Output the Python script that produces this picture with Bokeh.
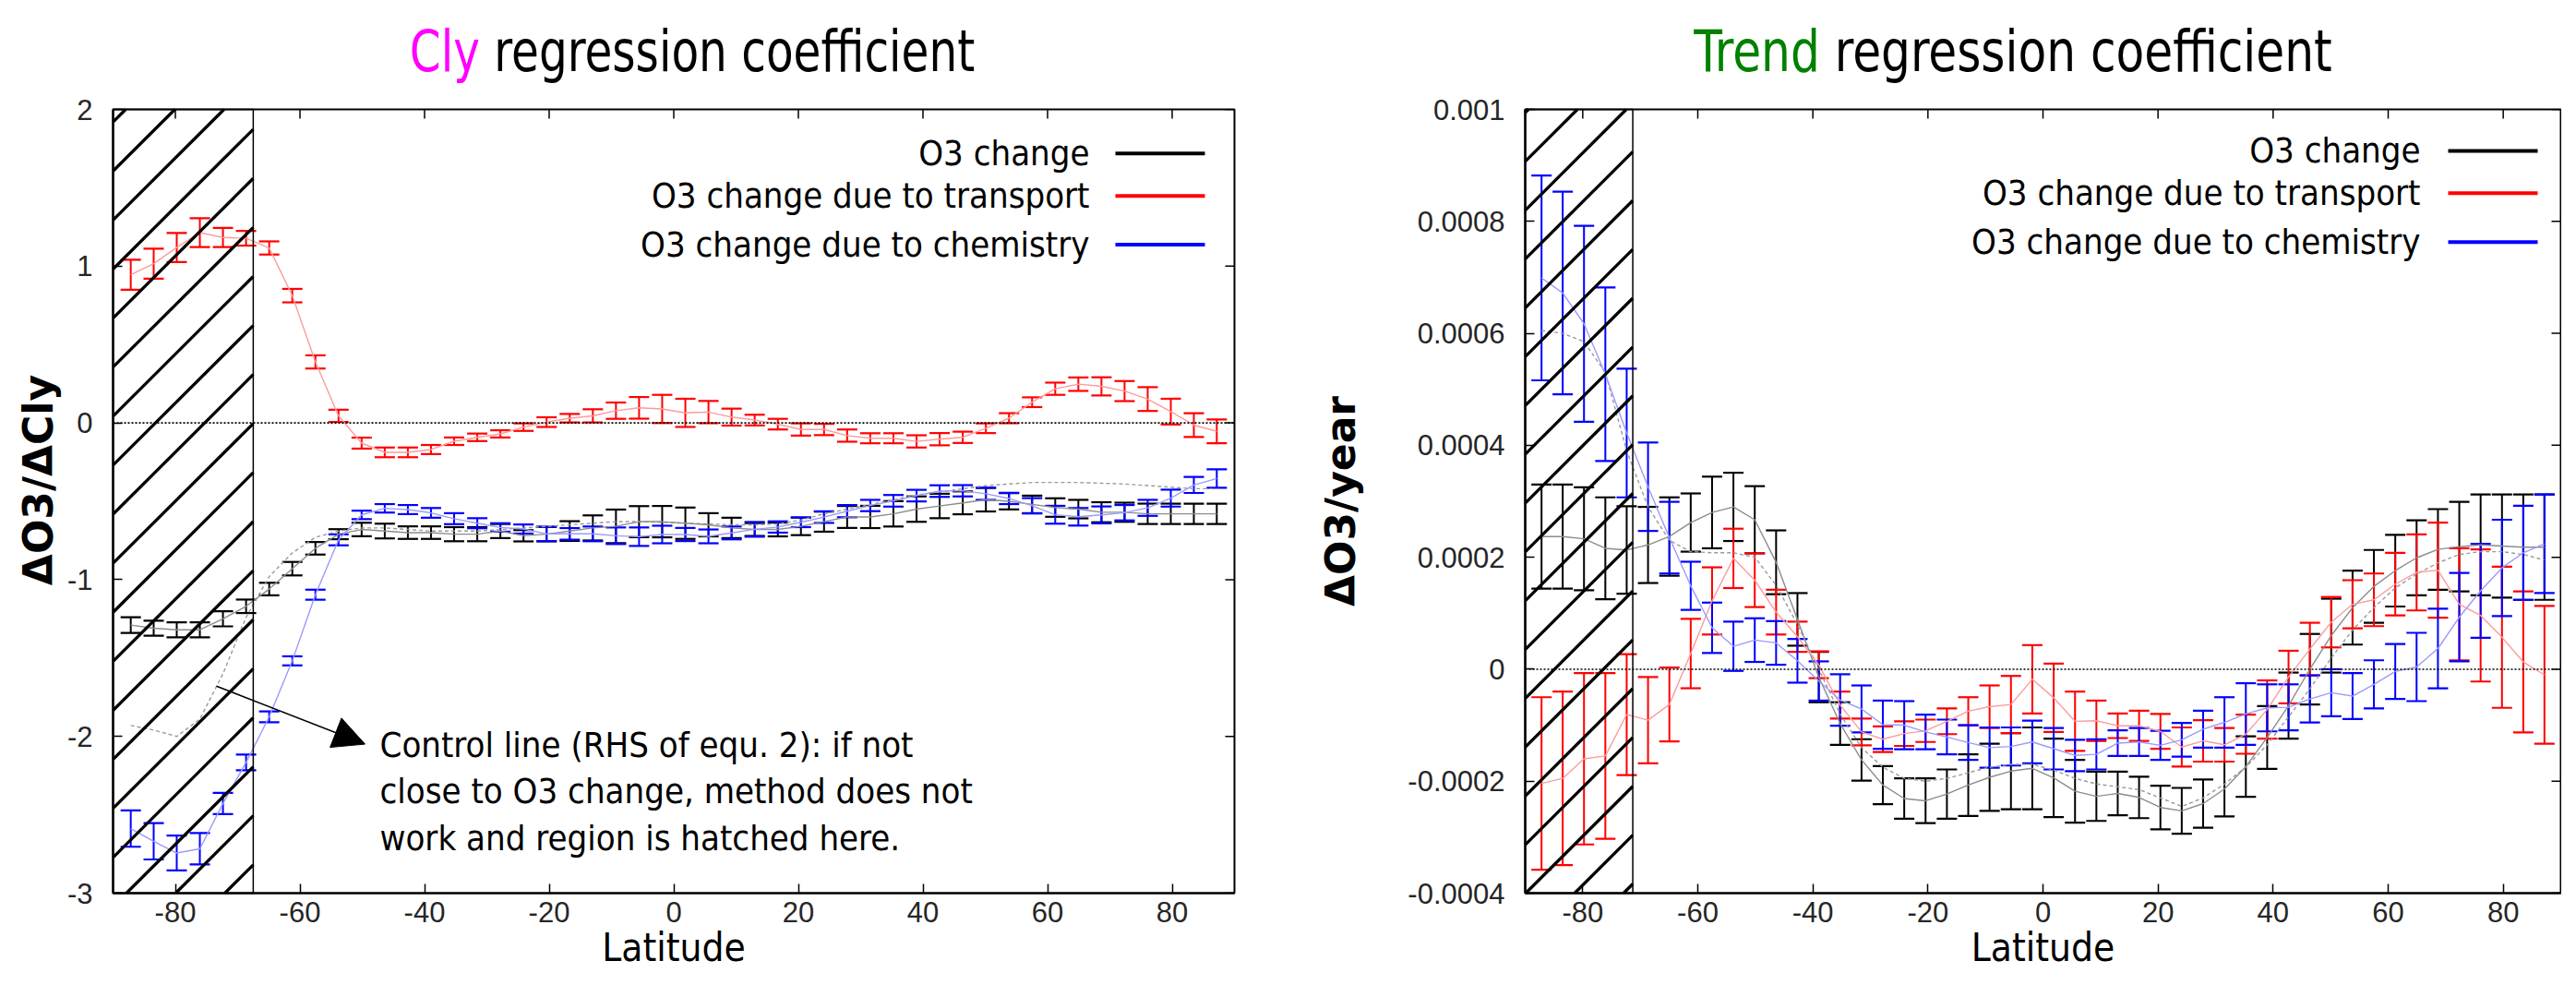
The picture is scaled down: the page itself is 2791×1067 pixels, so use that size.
import math
from bokeh.plotting import figure
from bokeh.models import (ColumnDataSource, Whisker, TeeHead, Span, Label, Range1d, Div,
                          FixedTicker, CustomJSTickFormatter, Arrow, NormalHead)
from bokeh.layouts import row, column
from bokeh.embed import file_html
from bokeh.resources import INLINE

# ---------------- data ----------------
latitude = [-87.16, -83.48, -79.78, -76.07, -72.36, -68.65, -64.94, -61.23, -57.52, -53.81,
            -50.10, -46.39, -42.68, -38.97, -35.26, -31.54, -27.83, -24.12, -20.41, -16.70,
            -12.99, -9.28, -5.57, -1.86, 1.86, 5.57, 9.28, 12.99, 16.70, 20.41,
            24.12, 27.83, 31.54, 35.26, 38.97, 42.68, 46.39, 50.10, 53.81, 57.52,
            61.23, 64.94, 68.65, 72.36, 76.07, 79.78, 83.48, 87.16]

# Cly regression coefficient (dO3/dCly)
cly_change = [-1.29, -1.31, -1.32, -1.32, -1.25, -1.17, -1.06, -0.93, -0.80, -0.71,
              -0.68, -0.69, -0.70, -0.70, -0.71, -0.71, -0.69, -0.72, -0.71, -0.69,
              -0.67, -0.66, -0.63, -0.63, -0.64, -0.65, -0.67, -0.68, -0.68, -0.66,
              -0.63, -0.60, -0.60, -0.58, -0.55, -0.53, -0.51, -0.49, -0.50, -0.52,
              -0.54, -0.55, -0.57, -0.57, -0.58, -0.58, -0.58, -0.58]
cly_change_err = [0.050, 0.048, 0.048, 0.048, 0.048, 0.043, 0.040, 0.043, 0.040, 0.032,
                  0.043, 0.047, 0.040, 0.040, 0.045, 0.045, 0.045, 0.036, 0.046, 0.063,
                  0.080, 0.107, 0.099, 0.100, 0.100, 0.074, 0.065, 0.041, 0.044, 0.056,
                  0.064, 0.070, 0.071, 0.081, 0.081, 0.078, 0.073, 0.075, 0.052, 0.056,
                  0.059, 0.059, 0.064, 0.061, 0.065, 0.065, 0.065, 0.065]
cly_transport = [0.945, 1.016, 1.119, 1.214, 1.183, 1.178, 1.116, 0.812, 0.389, 0.045,
                 -0.129, -0.188, -0.188, -0.170, -0.117, -0.092, -0.070, -0.027, 0.005, 0.030,
                 0.045, 0.078, 0.096, 0.089, 0.064, 0.069, 0.037, 0.018, -0.008, -0.042,
                 -0.042, -0.081, -0.098, -0.098, -0.118, -0.104, -0.092, -0.034, 0.030, 0.132,
                 0.218, 0.247, 0.233, 0.203, 0.152, 0.072, -0.014, -0.054]
cly_transport_err = [0.096, 0.096, 0.093, 0.092, 0.061, 0.047, 0.042, 0.043, 0.042, 0.039,
                     0.035, 0.031, 0.031, 0.029, 0.024, 0.024, 0.023, 0.024, 0.031, 0.027,
                     0.042, 0.052, 0.069, 0.090, 0.090, 0.071, 0.054, 0.034, 0.034, 0.039,
                     0.036, 0.039, 0.032, 0.032, 0.039, 0.039, 0.036, 0.031, 0.032, 0.031,
                     0.039, 0.043, 0.058, 0.064, 0.076, 0.082, 0.076, 0.076]
cly_chemistry = [-2.588, -2.669, -2.744, -2.717, -2.428, -2.166, -1.875, -1.518, -1.096, -0.746,
                 -0.587, -0.545, -0.553, -0.574, -0.611, -0.640, -0.667, -0.677, -0.708, -0.708,
                 -0.708, -0.720, -0.726, -0.712, -0.712, -0.724, -0.702, -0.679, -0.664, -0.634,
                 -0.601, -0.563, -0.527, -0.497, -0.464, -0.435, -0.433, -0.452, -0.482, -0.529,
                 -0.586, -0.599, -0.587, -0.573, -0.542, -0.480, -0.396, -0.355]
cly_chemistry_err = [0.116, 0.116, 0.111, 0.100, 0.068, 0.050, 0.035, 0.029, 0.032, 0.035,
                     0.027, 0.027, 0.029, 0.031, 0.035, 0.032, 0.027, 0.029, 0.046, 0.037,
                     0.047, 0.053, 0.059, 0.056, 0.042, 0.044, 0.041, 0.047, 0.036, 0.031,
                     0.037, 0.039, 0.036, 0.037, 0.037, 0.037, 0.036, 0.039, 0.036, 0.049,
                     0.057, 0.056, 0.054, 0.049, 0.051, 0.054, 0.051, 0.059]
cly_control = [-1.93, -1.96, -2.00, -1.89, -1.60, -1.24, -0.98, -0.83, -0.73, -0.69,
               -0.67, -0.67, -0.68, -0.69, -0.69, -0.69, -0.68, -0.67, -0.66, -0.65,
               -0.64, -0.63, -0.63, -0.635, -0.64, -0.645, -0.65, -0.65, -0.645, -0.62,
               -0.58, -0.55, -0.52, -0.49, -0.46, -0.44, -0.42, -0.40, -0.39, -0.38,
               -0.38, -0.38, -0.385, -0.39, -0.40, -0.41, -0.42, -0.42]
cly_hatch_end = -67.5

# Trend regression coefficient (dO3/year), in units of 1e-4
trend_change = [2.37, 2.37, 2.33, 2.16, 2.13, 2.22, 2.37, 2.62, 2.80, 2.90,
                2.67, 1.91, 0.89, -0.14, -0.97, -1.62, -2.07, -2.31, -2.35, -2.23,
                -2.07, -1.93, -1.82, -1.77, -1.94, -2.18, -2.27, -2.22, -2.29, -2.47,
                -2.53, -2.40, -2.14, -1.74, -1.22, -0.65, 0.00, 0.60, 1.10, 1.48,
                1.76, 1.99, 2.14, 2.19, 2.22, 2.20, 2.18, 2.18]
trend_change_err = [0.93, 0.93, 0.92, 0.91, 0.78, 0.68, 0.70, 0.52, 0.64, 0.61,
                    0.60, 0.57, 0.47, 0.45, 0.38, 0.37, 0.34, 0.36, 0.40, 0.44,
                    0.55, 0.60, 0.68, 0.73, 0.70, 0.56, 0.44, 0.39, 0.37, 0.39,
                    0.41, 0.43, 0.49, 0.54, 0.56, 0.59, 0.63, 0.66, 0.66, 0.65,
                    0.64, 0.67, 0.72, 0.80, 0.90, 0.92, 0.94, 0.94]
trend_transport = [-2.04, -1.95, -1.60, -1.55, -0.81, -0.91, -0.63, 0.28, 1.22, 1.98,
                   1.59, 1.02, 0.58, 0.08, -0.64, -1.12, -1.25, -1.15, -1.10, -0.93,
                   -0.75, -0.67, -0.63, -0.18, -0.51, -0.93, -0.92, -1.01, -1.01, -1.11,
                   -1.39, -1.28, -1.35, -1.16, -0.72, -0.14, 0.36, 0.84, 1.16, 1.24,
                   1.52, 1.73, 1.77, 1.16, 0.96, 0.57, 0.13, -0.10]
trend_transport_err = [1.54, 1.55, 1.53, 1.48, 1.08, 0.77, 0.66, 0.62, 0.60, 0.53,
                       0.48, 0.40, 0.27, 0.24, 0.24, 0.24, 0.23, 0.22, 0.20, 0.23,
                       0.25, 0.38, 0.51, 0.61, 0.61, 0.53, 0.36, 0.22, 0.27, 0.31,
                       0.35, 0.37, 0.30, 0.35, 0.52, 0.47, 0.47, 0.45, 0.43, 0.47,
                       0.56, 0.68, 0.85, 1.00, 1.18, 1.26, 1.26, 1.23]
trend_chemistry = [6.99, 6.72, 6.17, 5.27, 4.22, 3.26, 2.35, 1.49, 0.74, 0.41,
                   0.52, 0.47, 0.15, -0.21, -0.55, -0.71, -0.99, -1.00, -1.12, -1.21,
                   -1.31, -1.40, -1.38, -1.30, -1.42, -1.54, -1.52, -1.32, -1.30, -1.36,
                   -1.26, -1.07, -0.95, -0.80, -0.69, -0.68, -0.53, -0.42, -0.48, -0.27,
                   -0.04, 0.04, 0.37, 0.93, 1.40, 1.81, 2.08, 2.24]
trend_chemistry_err = [1.83, 1.81, 1.75, 1.55, 1.15, 0.79, 0.64, 0.43, 0.45, 0.44,
                       0.39, 0.39, 0.39, 0.35, 0.46, 0.42, 0.43, 0.43, 0.31, 0.31,
                       0.31, 0.36, 0.34, 0.38, 0.37, 0.28, 0.27, 0.23, 0.25, 0.26,
                       0.30, 0.33, 0.45, 0.55, 0.42, 0.41, 0.42, 0.42, 0.41, 0.43,
                       0.49, 0.61, 0.71, 0.79, 0.84, 0.86, 0.84, 0.88]
trend_control = [6.05, 6.00, 5.85, 5.30, 3.90, 2.90, 2.30, 2.10, 2.08, 2.08,
                 2.00, 1.50, 0.80, 0.00, -0.80, -1.40, -1.75, -1.95, -2.00, -1.95,
                 -1.85, -1.75, -1.70, -1.70, -1.80, -1.95, -2.05, -2.10, -2.15, -2.30,
                 -2.45, -2.30, -2.05, -1.75, -1.35, -0.85, -0.35, 0.20, 0.70, 1.10,
                 1.45, 1.70, 1.90, 2.05, 2.10, 2.10, 2.05, 1.95]
trend_scale = 1e-4
trend_hatch_end = -71.3

x_ticks = [-80, -60, -40, -20, 0, 20, 40, 60, 80]
cly_ticks = [-3, -2, -1, 0, 1, 2]
trend_ticks = [-0.0004, -0.0002, 0, 0.0002, 0.0004, 0.0006, 0.0008, 0.001]

legend_labels = ["O3 change", "O3 change due to transport", "O3 change due to chemistry"]
series_colors = ["#000000", "#ff0000", "#0000ff"]
line_colors = ["#8c8c8c", "#ff9a9a", "#9a9aff"]

NARROW = "DejaVu Sans Condensed, Liberation Sans Narrow, Roboto Condensed, Roboto"
TICKFONT = "Liberation Sans"
BOLDFONT = "DejaVu Sans"

TOP_H = 86           # height of the title row
H = 1051 - TOP_H     # height of the figures
PAGE_TOP = 8 + TOP_H


def make_title(width, center, word, color, stretch):
    pad = max(0, int(2 * center - width))
    html = ('<div style="box-sizing:border-box;width:%dpx;padding-left:%dpx;padding-top:20px;'
            'text-align:center;font-family:%s;font-size:62px;line-height:62px;'
            'white-space:nowrap;color:black;transform:scaleX(%.3f);'
            'transform-origin:%dpx 0px;">'
            '<span style="color:%s">%s</span> regression coefficient</div>'
            % (width, pad, NARROW, stretch, int(center), color, word))
    return Div(text=html, width=width, height=TOP_H)


def make_panel(width, page_left, frame_left, frame_right, frame_top, frame_bottom,
               y0, y1, values, errors, control, hatch_end, yticks, ylabel,
               ylabel_standoff, pos):
    border_left = frame_left - page_left
    border_right = page_left + width - frame_right
    border_top = frame_top - PAGE_TOP
    border_bottom = PAGE_TOP + H - frame_bottom
    p = figure(width=width, height=H, output_backend="svg", toolbar_location=None,
               x_range=Range1d(-90, 90), y_range=Range1d(y0, y1),
               min_border_left=border_left, min_border_right=border_right,
               min_border_top=border_top, min_border_bottom=border_bottom,
               background_fill_color="white", border_fill_color="white")
    p.grid.visible = False
    p.outline_line_color = "black"
    p.outline_line_width = 2

    fmt = CustomJSTickFormatter(code="return tick.toString();")
    for ax in (p.xaxis[0], p.yaxis[0]):
        ax.major_tick_in = 10
        ax.major_tick_out = 0
        ax.minor_tick_line_color = None
        ax.axis_line_color = "black"
        ax.axis_line_width = 2
        ax.major_tick_line_width = 1.5
        ax.major_label_text_font = TICKFONT
        ax.major_label_text_font_size = "31px"
        ax.major_label_text_color = "#262626"
        ax.formatter = fmt
    p.xaxis[0].ticker = FixedTicker(ticks=x_ticks)
    p.xaxis[0].major_label_standoff = 9
    p.xaxis[0].axis_label = "Latitude"
    p.xaxis[0].axis_label_text_font = NARROW
    p.xaxis[0].axis_label_text_font_style = "normal"
    p.xaxis[0].axis_label_text_font_size = "42px"
    p.xaxis[0].axis_label_text_color = "black"
    p.xaxis[0].axis_label_standoff = 0
    p.yaxis[0].ticker = FixedTicker(ticks=yticks)
    p.yaxis[0].major_label_standoff = 22
    p.yaxis[0].axis_label = ylabel
    p.yaxis[0].axis_label_text_font = BOLDFONT
    p.yaxis[0].axis_label_text_font_style = "bold"
    p.yaxis[0].axis_label_text_font_size = "44px"
    p.yaxis[0].axis_label_text_color = "black"
    p.yaxis[0].axis_label_standoff = ylabel_standoff

    fw = frame_right - frame_left
    fh = frame_bottom - frame_top
    xpx = fw / 180.0
    ypx = fh / (y1 - y0)

    def dx(px):
        return -90 + (px - frame_left) / xpx

    def dy(py):
        return y1 - (py - frame_top) / ypx

    # mirrored ticks on top and right
    p.segment(x0=x_ticks, x1=x_ticks, y0=[y1] * len(x_ticks),
              y1=[y1 - 10 / ypx] * len(x_ticks), line_color="black", line_width=1.5)
    p.segment(x0=[90] * len(yticks), x1=[90 - 10 / xpx] * len(yticks), y0=yticks,
              y1=yticks, line_color="black", line_width=1.5)

    p.add_layout(Span(location=0, dimension="width", line_color="black", line_width=1.6,
                      line_dash="2 2"))

    # control line
    p.line(latitude, control, line_color="#9a9a9a", line_width=1.4, line_dash="4 3")

    for vals, errs, col, lcol in zip(values, errors, series_colors, line_colors):
        p.line(latitude, vals, line_color=lcol, line_width=1.4)
        src = ColumnDataSource(dict(
            lat=latitude,
            upper=[v + e for v, e in zip(vals, errs)],
            lower=[v - e for v, e in zip(vals, errs)]))
        p.add_layout(Whisker(source=src, base="lat", upper="upper", lower="lower",
                             dimension="height", line_color=col, line_width=2,
                             upper_head=TeeHead(size=22, line_color=col, line_width=2.2),
                             lower_head=TeeHead(size=22, line_color=col, line_width=2.2)))

    # hatched region: box outline plus 45-degree hatch lines (screen geometry)
    p.quad(left=[-90], right=[hatch_end], bottom=[y0], top=[y1], fill_color=None,
           line_color="black", line_width=1.5, level="overlay")
    L = frame_left
    R = frame_left + (hatch_end + 90) * xpx
    T, B = frame_top, frame_bottom
    sp = pos["hatch_spacing"]
    ya = pos["hatch_anchor"]
    hx0, hy0, hx1, hy1 = [], [], [], []
    k0 = int(math.floor((T + L - (ya + R)) / sp)) - 1
    k1 = int(math.ceil((B + R - (ya + R)) / sp)) + 1
    for k in range(k0, k1 + 1):
        c = ya + R + k * sp
        xa = max(L, c - B)
        xb = min(R, c - T)
        if xb > xa:
            hx0.append(dx(xa)); hy0.append(dy(c - xa))
            hx1.append(dx(xb)); hy1.append(dy(c - xb))
    p.segment(x0=hx0, y0=hy0, x1=hx1, y1=hy1, line_color="black", line_width=3.3,
              level="overlay")

    # legend
    for lab, col, ly in zip(legend_labels, series_colors, [161, 207, 260]):
        p.add_layout(Label(x=dx(pos["legend_text_right"]), y=dy(ly), text=lab,
                           text_align="right", text_baseline="middle",
                           text_font=NARROW, text_font_size="38px", text_color="black"))
        p.segment(x0=[dx(pos["legend_line"][0])], x1=[dx(pos["legend_line"][1])],
                  y0=[dy(ly)], y1=[dy(ly)], line_color=col, line_width=4)
    return p, dx, dy


W1 = 1412
W2 = 1363
p1, dx1, dy1 = make_panel(
    W1, 8, 130, 1345, 113, 965, -3, 2,
    [cly_change, cly_transport, cly_chemistry],
    [cly_change_err, cly_transport_err, cly_chemistry_err],
    cly_control, cly_hatch_end, cly_ticks, "\u00a0" * 3 + "\u0394O3/\u0394Cly", 3,
    dict(legend_text_right=1188, legend_line=(1216, 1313),
         hatch_spacing=53.3, hatch_anchor=134.7))

# annotation about the control line
for txt, ly in zip(["Control line (RHS of equ. 2): if not",
                    "close to O3 change, method does not",
                    "work and region is hatched here."], [804, 854, 905]):
    p1.add_layout(Label(x=dx1(419), y=dy1(ly), text=txt, text_align="left",
                        text_baseline="middle", text_font=NARROW,
                        text_font_size="38px", text_color="black"))
p1.add_layout(Arrow(end=NormalHead(size=34, fill_color="black", line_color="black"),
                    x_start=dx1(242), y_start=dy1(740), x_end=dx1(403), y_end=dy1(803),
                    line_color="black", line_width=1.5))

trend_vals = [[v * trend_scale for v in s] for s in (trend_change, trend_transport, trend_chemistry)]
trend_errs = [[v * trend_scale for v in s] for s in (trend_change_err, trend_transport_err, trend_chemistry_err)]
p2, dx2, dy2 = make_panel(
    W2, 8 + W1, 1660, 2782, 116, 967, -0.0004, 0.001,
    trend_vals, trend_errs, [v * trend_scale for v in trend_control], trend_hatch_end,
    trend_ticks, "\u0394O3/year", 44,
    dict(legend_text_right=2630, legend_line=(2660, 2757),
         hatch_spacing=53.0, hatch_anchor=162.0))

t1 = make_title(W1, 753 - 8, "Cly", "#ff00ff", 0.87)
t2 = make_title(W2, 2174 - 8 - W1, "Trend", "#008000", 0.90)

layout = column(row(t1, t2), row(p1, p2))
open("out.html", "w").write(file_html(layout, INLINE))
